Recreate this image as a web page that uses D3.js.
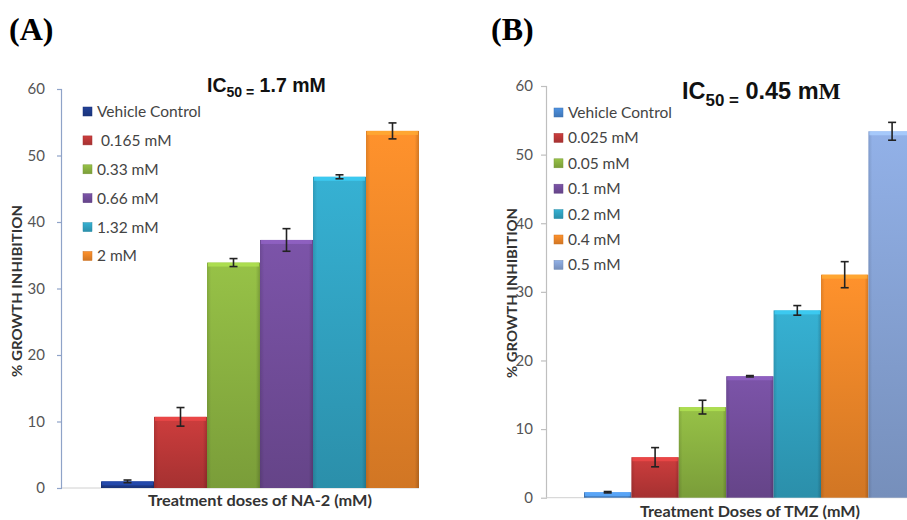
<!DOCTYPE html>
<html><head><meta charset="utf-8">
<script src="https://cdn.jsdelivr.net/npm/d3@7"></script>
<style>body{margin:0;background:#fff}svg{display:block}</style>
</head><body>
<svg id="c" width="907" height="520"></svg>
<script>
// ---- data ----
const yTicks = [0, 10, 20, 30, 40, 50, 60];
const catsA = ["Vehicle Control", " 0.165 mM", "0.33 mM", "0.66 mM", "1.32 mM", "2 mM"];
const valsA = [1.0, 10.7, 33.9, 37.3, 46.8, 53.7];
const errA  = [0.2, 1.4, 0.6, 1.7, 0.3, 1.2];
const catsB = ["Vehicle Control", "0.025 mM", "0.05 mM", "0.1 mM", "0.2 mM", "0.4 mM", "0.5 mM"];
const valsB = [0.8, 5.9, 13.2, 17.7, 27.3, 32.5, 53.4];
const errB  = [0.1, 1.4, 1.0, 0.1, 0.7, 1.9, 1.3];
const colorsA = ["#1f3d8f", "#c23a3a", "#8fb843", "#7650a0", "#33a8c8", "#f58a2a"];
const colorsB = ["#4a8ad6", "#c23a3a", "#8fb843", "#7650a0", "#33a8c8", "#f58a2a", "#8aa8dc"];

const svg = d3.select("#c");
const defs = svg.append("defs");

function grad(id, c) {
  const g = defs.append("linearGradient").attr("id", id).attr("x1", 0).attr("y1", 0).attr("x2", 0).attr("y2", 1);
  const base = d3.color(c);
  g.append("stop").attr("offset", "0%").attr("stop-color", d3.color(c).brighter(0.15));
  g.append("stop").attr("offset", "100%").attr("stop-color", base.darker(0.45));
  const h = defs.append("linearGradient").attr("id", id + "h").attr("x1", 0).attr("y1", 0).attr("x2", 1).attr("y2", 0);
  h.append("stop").attr("offset", "0%").attr("stop-color", "#000").attr("stop-opacity", 0.12);
  h.append("stop").attr("offset", "8%").attr("stop-color", "#000").attr("stop-opacity", 0);
  h.append("stop").attr("offset", "92%").attr("stop-color", "#000").attr("stop-opacity", 0);
  h.append("stop").attr("offset", "100%").attr("stop-color", "#000").attr("stop-opacity", 0.18);
}

const sans = "Lato, 'Open Sans', sans-serif";

function panel(o) {
  const g = svg.append("g");
  const y = d3.scaleLinear().domain([0, 60]).range([o.y0, o.y60]);
  const x = d3.scaleBand().domain(o.cats).range([o.bx0, o.bx1]).padding(0);

  // y axis
  const ax = g.append("g").attr("transform", `translate(${o.axX},0)`)
    .call(d3.axisLeft(y).tickValues(yTicks).tickSize(o.tick).tickPadding(o.tickPad));
  ax.select(".domain").attr("stroke", o.axisColor).attr("stroke-width", 1.2).attr("d", `M-0.5,${o.y0}V${o.y60}`);
  ax.selectAll(".tick line").attr("stroke", o.axisColor).attr("stroke-width", 1.2);
  ax.selectAll(".tick text").attr("fill", "#555").style("font-family", sans).style("font-size", "15px");

  // baseline
  g.append("line").attr("x1", o.axX).attr("x2", o.bx1).attr("y1", y(0)).attr("y2", y(0)).attr("stroke", "#d0d0d0");

  // bars
  o.cats.forEach((c, i) => grad(o.id + i, o.colors[i]));
  const bars = g.selectAll("g.bar").data(o.cats).enter().append("g");
  bars.append("rect").attr("x", d => x(d)).attr("width", x.bandwidth())
    .attr("y", (d, i) => y(o.vals[i])).attr("height", (d, i) => y(0) - y(o.vals[i]))
    .attr("fill", (d, i) => `url(#${o.id + i})`);
  bars.append("rect").attr("x", d => x(d)).attr("width", x.bandwidth())
    .attr("y", (d, i) => y(o.vals[i])).attr("height", (d, i) => y(0) - y(o.vals[i]))
    .attr("fill", (d, i) => `url(#${o.id + i}h)`);
  // top bevel
  bars.append("rect").attr("x", d => x(d) + 1).attr("width", x.bandwidth() - 2)
    .attr("y", (d, i) => y(o.vals[i])).attr("height", (d, i) => Math.min(4, y(0) - y(o.vals[i])))
    .attr("fill", (d, i) => d3.color(o.colors[i]).brighter(0.6)).attr("opacity", 0.8);

  // error bars
  const eb = g.append("g").attr("stroke", "#222").attr("stroke-width", 1.6);
  o.cats.forEach((c, i) => {
    const cx = x(c) + x.bandwidth() / 2;
    const t = y(o.vals[i] + o.errs[i]), b = y(o.vals[i] - o.errs[i]);
    eb.append("line").attr("x1", cx).attr("x2", cx).attr("y1", t).attr("y2", b);
    eb.append("line").attr("x1", cx - 4).attr("x2", cx + 4).attr("y1", t).attr("y2", t);
    eb.append("line").attr("x1", cx - 4).attr("x2", cx + 4).attr("y1", b).attr("y2", b);
  });

  // legend
  const lg = g.append("g");
  o.cats.forEach((c, i) => {
    const ly = o.legY + i * o.legStep;
    lg.append("rect").attr("x", o.legX).attr("y", ly - 4.5).attr("width", 9).attr("height", 9)
      .attr("fill", `url(#${o.id + i})`).attr("stroke", d3.color(o.colors[i]).darker(0.5)).attr("stroke-width", 0.5);
    lg.append("text").attr("x", o.legX + 14).attr("y", ly).attr("dy", "0.35em")
      .attr("fill", "#444").style("font-family", sans).style("font-size", o.legFont + "px")
      .style("white-space", "pre").text(c);
  });

  // title
  const tt = g.append("text").attr("x", o.titleX).attr("y", o.titleY).attr("fill", "#111")
    .style("font-family", "'Liberation Sans', Arial, sans-serif").style("font-weight", "bold").style("font-size", o.titleFont + "px");
  tt.append("tspan").text("IC");
  tt.append("tspan").attr("dy", o.titleFont * 0.28).style("font-size", (o.titleFont * 0.72) + "px").text("50 =");
  tt.append("tspan").attr("dy", -o.titleFont * 0.28).text(" " + o.ic + " m");
  tt.append("tspan").style("font-family", o.mSerif ? "'Liberation Serif', serif" : "inherit").text("M");

  // axis labels
  g.append("text").attr("transform", `translate(${o.ylX},${o.ylY}) rotate(-90)`).attr("text-anchor", "middle")
    .attr("dy", "0.35em").attr("fill", "#333").style("font-family", sans)
    .style("font-weight", "bold").style("font-size", "14px")
    .attr("textLength", o.ylLen).attr("lengthAdjust", "spacingAndGlyphs").text("% GROWTH INHIBITION");
  g.append("text").attr("x", o.xlX).attr("y", o.xlY).attr("text-anchor", "middle").attr("dy", "0.35em")
    .attr("fill", "#333").style("font-family", sans)
    .style("font-weight", "bold").style("font-size", "15.5px")
    .attr("textLength", o.xlLen).attr("lengthAdjust", "spacingAndGlyphs").text(o.xlabel);

  // panel letter
  g.append("text").attr("x", o.letX).attr("y", 40).attr("fill", "#000")
    .style("font-family", "'Liberation Serif', 'Times New Roman', serif").style("font-weight", "bold")
    .style("font-size", "32px").text(o.letter);
}

panel({
  id: "a", cats: catsA, vals: valsA, errs: errA, colors: colorsA,
  y0: 488, y60: 89, axX: 62, bx0: 101, bx1: 419, tick: 5, tickPad: 12, axisColor: "#8fa3c8",
  legX: 83, legY: 111.5, legStep: 28.9, legFont: 15.5,
  titleX: 207, titleY: 92, titleFont: 19.5, ic: "1.7", mSerif: false,
  ylX: 17, ylY: 291, ylLen: 172, xlX: 260, xlY: 501, xlLen: 224, xlabel: "Treatment doses of NA-2 (mM)",
  letX: 9, letter: "(A)"
});
panel({
  id: "b", cats: catsB, vals: valsB, errs: errB, colors: colorsB,
  y0: 497.7, y60: 86, axX: 547, bx0: 584, bx1: 584 + 7 * 47.4, tick: 6, tickPad: 8, axisColor: "#bfbfbf",
  legX: 554, legY: 112.5, legStep: 25.4, legFont: 15.5,
  titleX: 682, titleY: 99, titleFont: 23.5, ic: "0.45", mSerif: true,
  ylX: 512, ylY: 293, ylLen: 170, xlX: 750, xlY: 512, xlLen: 220, xlabel: "Treatment Doses of TMZ (mM)",
  letX: 491, letter: "(B)"
});
</script>
</body></html>
